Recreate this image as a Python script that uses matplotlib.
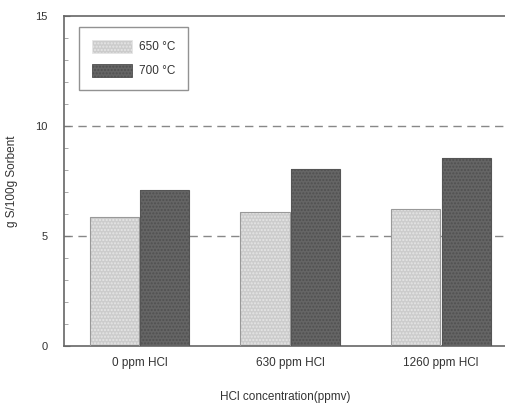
import matplotlib.pyplot as plt
import numpy as np

# data
groups = ["0 ppm HCl", "630 ppm HCl", "1260 ppm HCl"]
t650 = [5.85, 6.1, 6.22]
t700 = [7.1, 8.05, 8.55]
labels = ["650 \u00b0C", "700 \u00b0C"]

plt.rcParams['font.family'] = ['Liberation Sans', 'DejaVu Sans']
txt = '#333333'

fig = plt.figure(figsize=(5.06, 4.08), dpi=100)
ax = fig.add_axes([64 / 506, 62 / 408, 442 / 506, 330 / 408])

x = np.arange(len(groups))
w = 0.325

# dashed grid lines behind bars
for yv in [5, 10]:
    ax.axhline(yv, color='#888888', lw=1.0, ls=(0, (6, 4)), zorder=0)

# fill + dotted hatch, then the outline on top
b1 = ax.bar(x - w / 2 - 0.005, t650, w, color='#cccccc', edgecolor='#e6e6e6',
            hatch='.....', lw=0, zorder=2, label=labels[0])
b2 = ax.bar(x + w / 2 + 0.005, t700, w, color='#656565', edgecolor='#505050',
            hatch='.....', lw=0, zorder=2, label=labels[1])
ax.bar(x - w / 2 - 0.005, t650, w, fill=False, edgecolor='#999999', lw=0.8, zorder=3)
ax.bar(x + w / 2 + 0.005, t700, w, fill=False, edgecolor='#555555', lw=0.8, zorder=3)

ax.set_xlim(-0.5, 2.43)
ax.set_ylim(0, 15)
ax.set_yticks([0, 5, 10, 15])
ax.set_yticks(np.arange(0, 16, 1), minor=True)
ax.set_xticks(x)
ax.set_xticklabels(groups)
ax.tick_params(axis='y', which='major', direction='in', length=4, labelsize=8,
               colors='#777777', labelcolor=txt, pad=12)
ax.tick_params(axis='y', which='minor', direction='in', length=3, color='#999999')
ax.tick_params(axis='x', length=0, labelsize=8.5, labelcolor=txt, pad=8)

for s in ['left', 'bottom', 'top']:
    ax.spines[s].set_color('#666666')
    ax.spines[s].set_linewidth(1.2)
ax.spines['right'].set_visible(False)

ax.set_ylabel("g S/100g Sorbent", fontsize=8.5, color=txt)
ax.yaxis.set_label_coords(-0.103, 0.5)
ax.set_xlabel("HCl concentration(ppmv)", fontsize=8.5, color=txt)
ax.xaxis.set_label_coords(0.5, -0.135)

leg = ax.legend(loc='upper left', bbox_to_anchor=(0.033, 0.967), fontsize=8.5,
                fancybox=False, edgecolor='#777777', handlelength=3.4,
                handleheight=1.3, borderpad=1.1, labelspacing=0.9,
                handletextpad=0.6, borderaxespad=0, frameon=True)
leg.get_frame().set_linewidth(1.0)
for h in leg.legend_handles:
    h.set_linewidth(0.6)
for t in leg.get_texts():
    t.set_color(txt)

fig.savefig("out.png", dpi=100)
